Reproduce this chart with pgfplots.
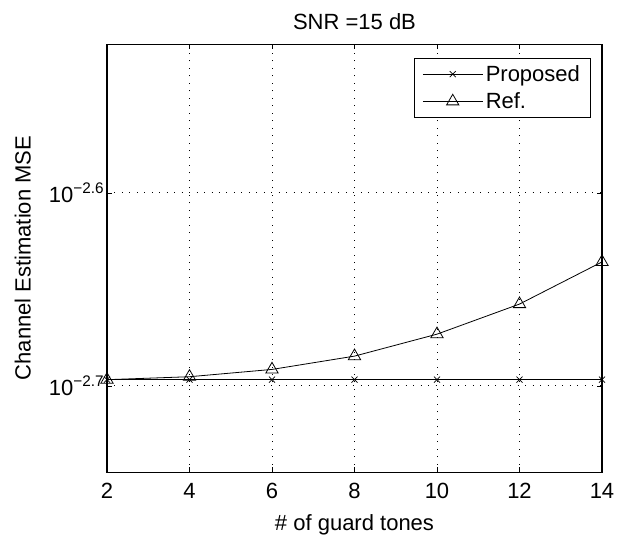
\documentclass[border=0pt]{standalone}
\usepackage{pgfplots}
\pgfplotsset{compat=1.18}
\usepackage{fontspec}
\setmainfont{Liberation Sans}
\newcommand{\m}{\char"2212\relax}
\newcommand{\fs}{\fontsize{16.5}{19}\selectfont}
\newcommand{\sx}[1]{10\raisebox{0.75ex}{\fontsize{11.5}{12}\selectfont\m #1}}
\begin{document}
\begin{tikzpicture}
\begin{axis}[
  scale only axis,
  width=371.25pt, height=321pt,
  xmin=2, xmax=14,
  ymode=log,
  ymin=0.0018, ymax=0.0030,
  xtick={2,4,...,14},
  ytick={0.0019952623,0.0025118864},
  yticklabels={\sx{2.7},\sx{2.6}},
  minor ytick={},
  log basis y=10,
  grid=major,
  major grid style={black, line width=0.6pt, dash pattern=on 0.75pt off 4.85pt},
  tick align=inside,
  tick pos=both,
  major tick length=4pt,
  axis line style={black, line width=0.8pt},
  tick style={black, line width=0.5pt},
  /pgf/number format/assume math mode=true,
  ticklabel style={font=\fs},
  xticklabel style={yshift=-5pt},
  yticklabel style={xshift=1pt},
  label style={font=\fs},
  title style={font=\fs, at={(axis description cs:0.5,1.0514)}, anchor=center, yshift=-6pt},
  title={SNR =15 dB},
  xlabel={\# of guard tones},
  ylabel={Channel Estimation MSE},
  xlabel style={at={(axis description cs:0.5,-0.124)}, anchor=center},
  ylabel style={at={(axis description cs:-0.170,0.5)}, anchor=center},
  legend style={at={(0.9778,0.9673)}, anchor=north east, draw=black, line width=0.6pt,
    font=\fs, inner xsep=6pt, inner ysep=3pt, row sep=3pt,
    legend cell align=left},
  legend image code/.code={\draw[mark repeat=2,mark phase=2,#1] plot coordinates {(0cm,0cm) (0.79cm,0cm) (1.58cm,0cm)};},
]
\addplot[black, line width=0.6pt, mark=x, mark size=3.2pt, mark options={solid}] coordinates {
 (2,0.0020098) (4,0.0020098) (6,0.0020098) (8,0.0020098) (10,0.0020098) (12,0.0020098) (14,0.0020098)};
\addlegendentry{Proposed}
\addplot[black, line width=0.6pt, mark=triangle, mark size=5.3pt, mark options={solid}] coordinates {
 (2,0.0020098) (4,0.0020168) (6,0.0020345) (8,0.0020671) (10,0.0021220) (12,0.0021996) (14,0.0023131)};
\addlegendentry{Ref.}
\end{axis}
\pgfresetboundingbox
\path (current axis.south west) ++(-80.25pt,-51pt) coordinate (bl);
\path (current axis.north east) ++(18pt,33pt) coordinate (tr);
\path (bl) rectangle (tr);
\end{tikzpicture}
\end{document}
